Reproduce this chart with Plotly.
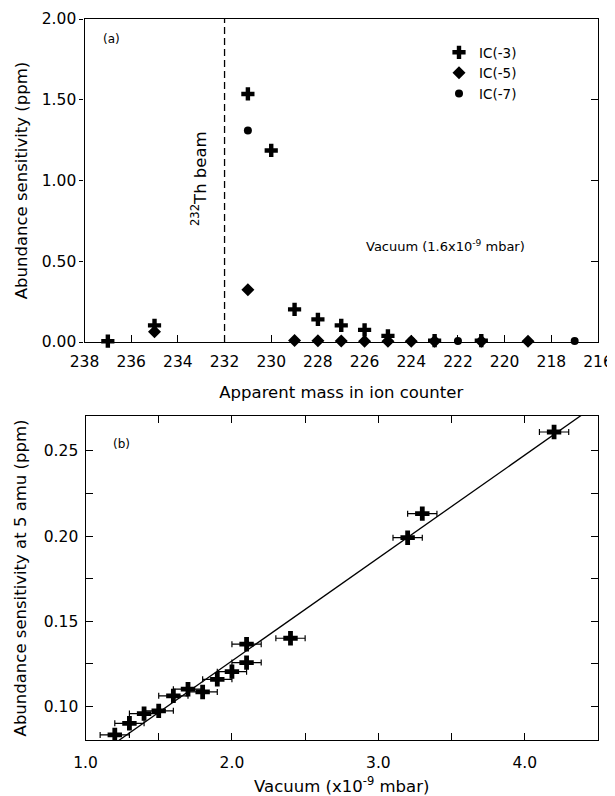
import plotly.graph_objects as go

# ---------------- Data: panel (a) ----------------
ic3_mass = [237, 235, 231, 230, 229, 228, 227, 226, 225, 223, 221]
ic3_val = [0.005, 0.103, 1.536, 1.186, 0.202, 0.140, 0.103, 0.075, 0.038, 0.008, 0.008]

ic5_mass = [235, 231, 229, 228, 227, 226, 225, 224, 223, 221, 219]
ic5_val = [0.063, 0.324, 0.010, 0.008, 0.006, 0.005, 0.005, 0.005, 0.005, 0.005, 0.005]

ic7_mass = [231, 224, 222, 217]
ic7_val = [1.309, 0.006, 0.006, 0.006]

beam_mass = 232

mass_ticks = list(range(238, 215, -2))
abund_ticks = [0.0, 0.5, 1.0, 1.5, 2.0]
abund_ticktext = ["0.00", "0.50", "1.00", "1.50", "2.00"]

# ---------------- Data: panel (b) ----------------
vac = [1.2, 1.3, 1.4, 1.5, 1.6, 1.7, 1.8, 1.9, 2.0, 2.1, 2.1, 2.4, 3.2, 3.3, 4.2]
sens5 = [0.0834, 0.0902, 0.0959, 0.0975, 0.1063, 0.1102, 0.1086, 0.1160, 0.1205,
         0.1258, 0.1366, 0.1401, 0.1991, 0.2132, 0.2611]
vac_err = [0.1] * len(vac)

fit_x = [1.0, 4.5]
fit_y = [0.0664, 0.2778]

vac_tickvals = [1.0, 1.5, 2.0, 2.5, 3.0, 3.5, 4.0, 4.5]
vac_ticktext = ["1.0", "", "2.0", "", "3.0", "", "4.0", ""]
sens_tickvals = [0.100, 0.125, 0.150, 0.175, 0.200, 0.225, 0.250]
sens_ticktext = ["0.10", "", "0.15", "", "0.20", "", "0.25"]

FONT = "DejaVu Sans, Liberation Sans, Arial, sans-serif"
OFF = 8  # default page body margin
W, H = 615 - OFF, 796 - OFF

def px_x(p):
    return (p - OFF) / W

def px_y(p):
    return 1 - (p - OFF) / H

fig = go.Figure()

# panel (a) traces
fig.add_trace(go.Scatter(x=ic3_mass, y=ic3_val, mode="markers", name="IC(-3)",
                         marker=dict(symbol="cross", size=11, color="black"),
                         cliponaxis=False, xaxis="x", yaxis="y"))
fig.add_trace(go.Scatter(x=ic5_mass, y=ic5_val, mode="markers", name="IC(-5)",
                         marker=dict(symbol="diamond", size=10, color="black"),
                         cliponaxis=False, xaxis="x", yaxis="y"))
fig.add_trace(go.Scatter(x=ic7_mass, y=ic7_val, mode="markers", name="IC(-7)",
                         marker=dict(symbol="circle", size=8, color="black"),
                         cliponaxis=False, xaxis="x", yaxis="y"))
# invisible trace for right-side inside ticks of panel (a)
fig.add_trace(go.Scatter(x=[beam_mass], y=[1.0], mode="markers", showlegend=False,
                         marker=dict(opacity=0), hoverinfo="skip",
                         xaxis="x", yaxis="y3"))

# panel (b) traces
fig.add_trace(go.Scatter(x=fit_x, y=fit_y, mode="lines", showlegend=False,
                         line=dict(color="black", width=1.3),
                         xaxis="x2", yaxis="y2"))
fig.add_trace(go.Scatter(x=vac, y=sens5, mode="markers", showlegend=False,
                         marker=dict(symbol="cross", size=12, color="black"),
                         error_x=dict(type="data", array=vac_err, color="black",
                                      thickness=1.2, width=3),
                         xaxis="x2", yaxis="y2"))

top_dom_y = [px_y(342), px_y(19)]
bot_dom_y = [px_y(740), px_y(416)]
dom_x_top = [px_x(84.5), px_x(598)]
dom_x_bot = [px_x(85.5), px_x(598)]

TICKFONT = dict(family=FONT, size=15.5, color="black")
TITLEFONT = dict(family=FONT, size=16.5, color="black")

axis_common = dict(showline=True, linecolor="black", linewidth=1.3, showgrid=False,
                   zeroline=False, tickfont=TICKFONT,
                   tickcolor="black", automargin=False,
                   ticklabeloverflow="allow")

fig.update_layout(
    width=W, height=H,
    margin=dict(l=0, r=0, t=0, b=0),
    paper_bgcolor="white", plot_bgcolor="white",
    font=dict(family=FONT, color="black"),
    showlegend=True,
    legend=dict(x=px_x(439), y=px_y(37), xanchor="left", yanchor="top",
                bgcolor="rgba(0,0,0,0)", font=dict(family=FONT, size=13.5, color="black"),
                itemwidth=30, tracegroupgap=0),
    xaxis=dict(domain=dom_x_top, anchor="y", range=[238, 216], tickvals=mass_ticks,
               ticks="inside", ticklen=7, mirror=True, ticklabelstandoff=5,
               title=dict(text="Apparent mass in ion counter", standoff=16, font=TITLEFONT),
               **axis_common),
    yaxis=dict(domain=top_dom_y, anchor="x", range=[0, 2.0], tickvals=abund_ticks,
               ticktext=abund_ticktext, ticks="outside", ticklen=4, mirror=True,
               title=dict(text="Abundance sensitivity (ppm)", standoff=9, font=TITLEFONT),
               **axis_common),
    yaxis3=dict(overlaying="y", side="right", anchor="x", range=[0, 2.0],
                tickvals=abund_ticks, ticks="inside", showticklabels=False,
                showline=False, showgrid=False, zeroline=False, tickcolor="black", ticklen=7),
    xaxis2=dict(domain=dom_x_bot, anchor="y2", range=[1.0, 4.5], tickvals=vac_tickvals,
                ticktext=vac_ticktext, ticks="inside", ticklen=7, mirror="allticks",
                ticklabelstandoff=8,
                title=dict(text="Vacuum (x10<sup>-9</sup> mbar)", standoff=13, font=TITLEFONT),
                **axis_common),
    yaxis2=dict(domain=bot_dom_y, anchor="x2", range=[0.0804, 0.2705], tickvals=sens_tickvals,
                ticktext=sens_ticktext, ticks="inside", ticklen=7, mirror="allticks",
                ticklabelstandoff=3,
                title=dict(text="Abundance sensitivity at 5 amu (ppm)", standoff=12,
                           font=TITLEFONT),
                **axis_common),
)

fig.add_shape(type="line", xref="x", yref="y domain", x0=beam_mass, x1=beam_mass, y0=0, y1=1,
              line=dict(color="black", width=1.3, dash="7px,4px"))

ann_font = dict(family=FONT, color="black")
common_ann = dict(xref="paper", yref="paper", showarrow=False, xanchor="center", yanchor="middle")
fig.add_annotation(text="(a)", x=px_x(111), y=px_y(39), font=dict(size=12, **ann_font), **common_ann)
fig.add_annotation(text="(b)", x=px_x(121), y=px_y(444), font=dict(size=12, **ann_font), **common_ann)
fig.add_annotation(text="<sup>232</sup>Th beam", x=px_x(199), y=px_y(179), textangle=-90,
                   font=dict(size=16.5, **ann_font), **common_ann)
fig.add_annotation(text="Vacuum (1.6x10<sup>-9</sup> mbar)", x=px_x(445), y=px_y(246),
                   font=dict(size=13, **ann_font), **common_ann)

fig.write_html("out.html")
